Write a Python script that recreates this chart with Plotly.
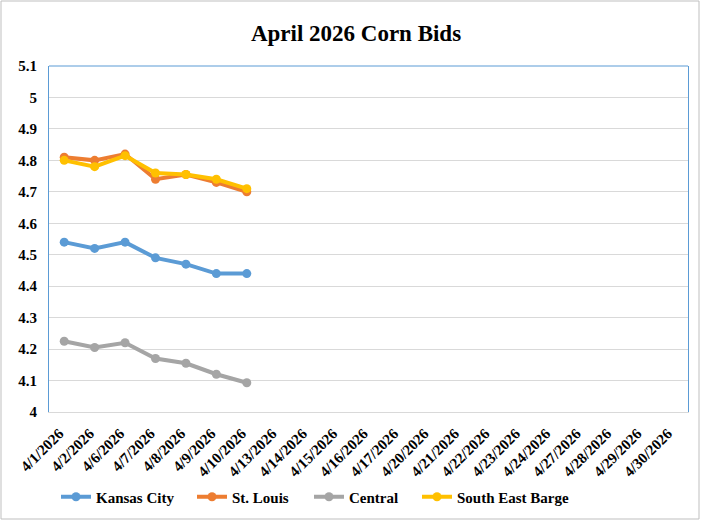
import plotly.graph_objects as go

dates = ["4/1/2026", "4/2/2026", "4/6/2026", "4/7/2026", "4/8/2026", "4/9/2026", "4/10/2026",
         "4/13/2026", "4/14/2026", "4/15/2026", "4/16/2026", "4/17/2026", "4/20/2026", "4/21/2026",
         "4/22/2026", "4/23/2026", "4/24/2026", "4/27/2026", "4/28/2026", "4/29/2026", "4/30/2026"]
data_dates = dates[:7]
kansas_city = [4.54, 4.52, 4.54, 4.49, 4.47, 4.44, 4.44]
st_louis = [4.81, 4.80, 4.82, 4.74, 4.755, 4.73, 4.70]
central = [4.225, 4.205, 4.22, 4.17, 4.155, 4.12, 4.093]
se_barge = [4.80, 4.78, 4.815, 4.76, 4.755, 4.74, 4.71]

series = [("Kansas City", kansas_city, "#5B9BD5"),
          ("St. Louis", st_louis, "#ED7D31"),
          ("Central", central, "#A5A5A5"),
          ("South East Barge", se_barge, "#FFC000")]

W, H = 701, 521
L, R, T, B = 49, 13, 66, 109
pw, ph = W - L - R, H - T - B

def px(x):
    return (x - L) / pw

def py(y):
    return (H - B - y) / ph

font = "Liberation Serif"
legend_starts = [62, 198, 315, 423]

fig = go.Figure()
legends = {}
for i, ((name, vals, col), lx) in enumerate(zip(series, legend_starts)):
    key = "legend" if i == 0 else f"legend{i + 1}"
    fig.add_trace(go.Scatter(x=data_dates, y=vals, name=name, mode="lines+markers",
                             line=dict(color=col, width=4),
                             marker=dict(color=col, size=9), legend=key))
    legends[key] = dict(orientation="h", x=px(lx - 6), xanchor="left", y=py(497), yanchor="middle",
                        font=dict(size=15, family=font, color="black", weight="bold"),
                        bgcolor="rgba(0,0,0,0)", itemwidth=30)

fig.update_layout(
    width=W, height=H, autosize=False,
    margin=dict(l=L, r=R, t=T, b=B, autoexpand=False),
    paper_bgcolor="white", plot_bgcolor="white",
    font=dict(family=font, color="black"),
    title=dict(text="April 2026 Corn Bids", x=356 / W, xanchor="center",
               y=1 - 33 / H, yanchor="middle",
               font=dict(size=23, family=font, color="black", weight="bold")),
    showlegend=True,
    xaxis=dict(type="category", categoryorder="array", categoryarray=dates,
               range=[-0.5, len(dates) - 0.5], tickangle=-45, automargin=False,
               tickfont=dict(size=15, family=font, color="black", weight="bold"),
               showgrid=False, showline=True, linecolor="#D9D9D9", linewidth=1,
               ticks="", ticklabelstandoff=6, ticklabelshift=-5),
    yaxis=dict(range=[4, 5.1], dtick=0.1, tick0=4, automargin=False,
               tickfont=dict(size=15, family=font, color="black", weight="bold"),
               showgrid=True, gridcolor="#D9D9D9", gridwidth=1,
               showline=True, linecolor="#5B9BD5", linewidth=1, mirror=True,
               zeroline=False, ticks="", ticklabelstandoff=8),
    shapes=[
        dict(type="line", xref="paper", yref="paper", x0=0, x1=1, y0=1, y1=1,
             line=dict(color="#5B9BD5", width=1)),
        dict(type="rect", xref="paper", yref="paper", x0=px(1), x1=px(699), y0=py(519), y1=py(1),
             line=dict(color="#BFBFBF", width=1), layer="below"),
    ],
    **legends,
)
fig.write_html("out.html", config={"displayModeBar": False},
               post_script="document.body.style.margin='0';")
